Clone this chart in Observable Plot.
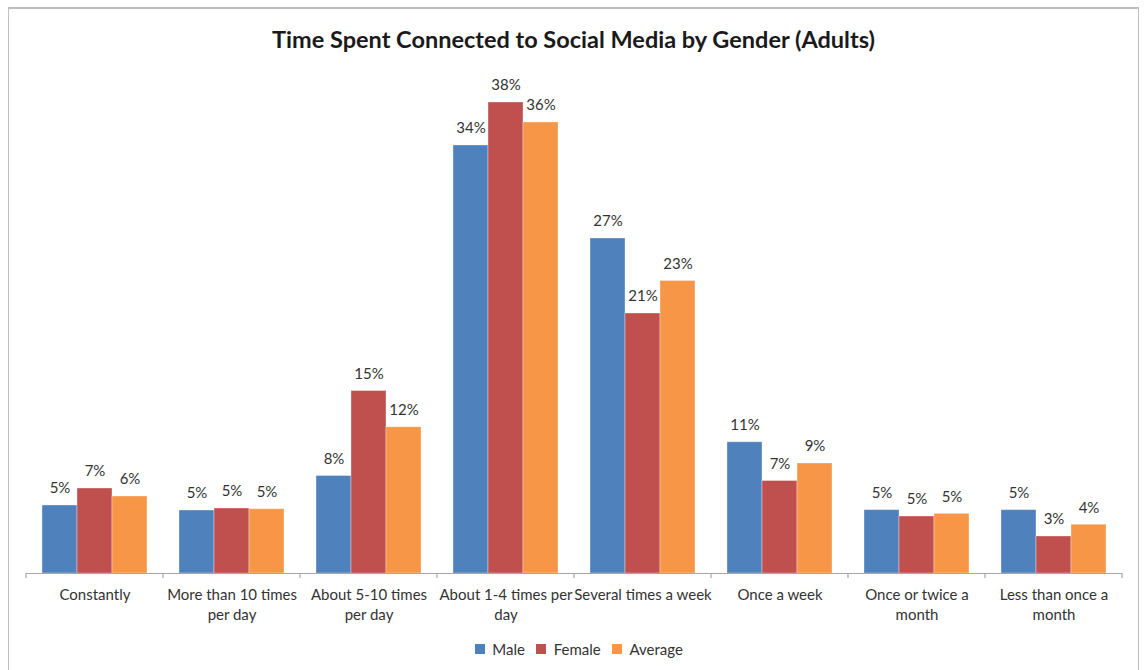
<!DOCTYPE html>
<html>
<head>
<meta charset="utf-8">
<script src="https://cdn.jsdelivr.net/npm/d3@7"></script>
<script src="https://cdn.jsdelivr.net/npm/@observablehq/plot@0.6"></script>
<style>
  html, body { margin: 0; padding: 0; background: #fff; }
  body { width: 1144px; height: 670px; overflow: hidden; position: relative; font-family: Lato, "Open Sans", sans-serif; }
  #box { position: absolute; left: 8px; top: 7px; width: 1129px; height: 700px; border: 1px solid #bfbfbf; border-width: 2px 1px 1px 1px; background: #fff; }
  #title { height: 51px; padding-top: 8px; box-sizing: border-box; line-height: 44px; text-align: center; font-size: 23.5px; font-weight: bold; color: #1a1a1a; }
  #legend { display: flex; justify-content: center; margin-top: -3px; padding-left: 22px; }
  #legend span { margin-right: 0.75em !important; }
</style>
</head>
<body>
<div id="box">
  <div id="title">Time Spent Connected to Social Media by Gender (Adults)</div>
  <div id="chart"></div>
  <div id="legend"></div>
</div>
<script>
const categories = ["Constantly", "More than 10 times per day", "About 5-10 times per day", "About 1-4 times per day", "Several times a week", "Once a week", "Once or twice a month", "Less than once a month"];
const tickLabels = ["Constantly", "More than 10 times\nper day", "About 5-10 times\nper day", "About 1-4 times per\nday", "Several times a week", "Once a week", "Once or twice a\nmonth", "Less than once a\nmonth"];
const series = ["Male", "Female", "Average"];
const male    = [5.44, 5.04, 7.8, 34.24, 26.8, 10.5, 5.07, 5.07];
const female  = [6.8, 5.2, 14.6, 37.68, 20.8, 7.4, 4.56, 2.96];
const average = [6.16, 5.14, 11.7, 36.08, 23.4, 8.8, 4.77, 3.9];
const colors = ["#4F81BD", "#C0504D", "#F79646"];

const seriesValues = [male, female, average];
const data = [];
categories.forEach((c, i) => {
  series.forEach((s, j) => data.push({category: c, series: s, value: seriesValues[j][i]}));
});
const labelOf = new Map(categories.map((c, i) => [c, tickLabels[i]]));

const chart = Plot.plot({
  width: 1129,
  height: 575,
  marginLeft: 16,
  marginRight: 16,
  marginTop: 20,
  marginBottom: 62,
  style: {fontFamily: "Lato, 'Open Sans', sans-serif", fontSize: "15px", color: "#404040", background: "#fff"},
  fx: {domain: categories, padding: 0, label: null},
  x: {domain: series, paddingInner: 0, paddingOuter: 0.45, axis: null},
  y: {domain: [0, 39.44], axis: null},
  color: {domain: series, range: colors},
  marks: [
    Plot.barY(data, {fx: "category", x: "series", y: "value", fill: "series", stroke: "white", strokeOpacity: 0.35, strokeWidth: 1}),
    Plot.ruleY([0], {stroke: "#a6a6a6", strokeWidth: 1.2}),
    Plot.text(data, {fx: "category", x: "series", y: "value", text: d => Math.round(d.value) + "%", dy: -17, fill: "#333", fontSize: 15}),
    Plot.axisFx({anchor: "bottom", tickSize: 0, tickPadding: 13, tickFormat: d => labelOf.get(d), fontSize: 15, lineHeight: 1.3, fill: "#333", label: null})
  ]
});
document.getElementById("chart").appendChild(chart);

// category separator ticks on the baseline, placed via the fx and y scales
const fx = chart.scale("fx");
const yS = chart.scale("y");
const y0 = yS.apply(0);
const edges = categories.map(c => fx.apply(c)).concat([fx.apply(categories[categories.length - 1]) + fx.bandwidth]);
d3.select(chart).append("g")
  .selectAll("line").data(edges).join("line")
  .attr("x1", d => d).attr("x2", d => d)
  .attr("y1", y0).attr("y2", y0 + 5)
  .attr("stroke", "#a6a6a6").attr("stroke-width", 1.2);

const legend = Plot.legend({
  color: {domain: series, range: colors},
  legend: "swatches",
  swatchSize: 10,
  style: {fontFamily: "Lato, 'Open Sans', sans-serif", fontSize: "15px", color: "#333"}
});
document.getElementById("legend").appendChild(legend);
</script>
</body>
</html>
